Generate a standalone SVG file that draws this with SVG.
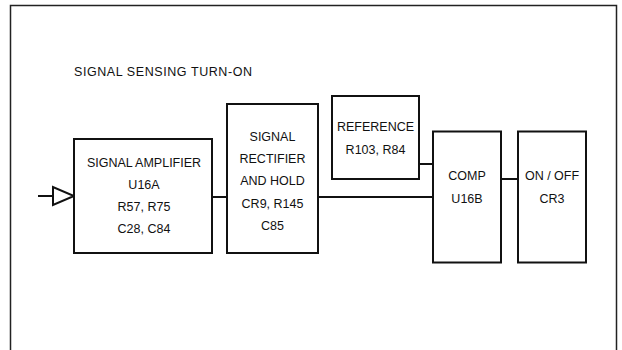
<svg xmlns="http://www.w3.org/2000/svg" width="622" height="350" viewBox="0 0 622 350">
<style>
.box{fill:#fff;stroke:#111;stroke-width:2}
.t{font-family:"Liberation Sans",Arial,sans-serif;font-size:12.5px;fill:#111;text-anchor:middle;dominant-baseline:central}
.c{fill:none;stroke:#111;stroke-width:2}
</style>
<rect width="622" height="350" fill="#fff"/>
<path d="M10.5,350 V5.5 H616.5 V350" fill="none" stroke="#222" stroke-width="1.5"/>
<text x="74" y="72" font-family="Liberation Sans,Arial,sans-serif" font-size="12.5" fill="#111" dominant-baseline="central" textLength="178" lengthAdjust="spacing">SIGNAL SENSING TURN-ON</text>
<g id="connectors">
<line class="c" x1="38" y1="196" x2="53" y2="196"/>
<polygon class="c" points="53,187 53,205 74,196"/>
<line class="c" x1="212" y1="197" x2="227" y2="197"/>
<line class="c" x1="318" y1="197" x2="433" y2="197"/>
<line class="c" x1="419" y1="164" x2="433" y2="164"/>
<line class="c" x1="501" y1="179" x2="518" y2="179"/>
</g>
<g id="amp">
<rect class="box" x="74" y="139" width="138" height="114"/>
<text class="t" x="144" y="162.5">SIGNAL AMPLIFIER</text>
<text class="t" x="144" y="185">U16A</text>
<text class="t" x="144" y="207">R57, R75</text>
<text class="t" x="144" y="228.5">C28, C84</text>
</g>
<g id="rectifier">
<rect class="box" x="227" y="104" width="91" height="149"/>
<text class="t" x="272.5" y="137">SIGNAL</text>
<text class="t" x="272.5" y="158.5">RECTIFIER</text>
<text class="t" x="272.5" y="181">AND HOLD</text>
<text class="t" x="272.5" y="203.5">CR9, R145</text>
<text class="t" x="272.5" y="226">C85</text>
</g>
<g id="reference">
<rect class="box" x="332" y="96" width="87" height="83"/>
<text class="t" x="375.5" y="127">REFERENCE</text>
<text class="t" x="375.5" y="150">R103, R84</text>
</g>
<g id="comp">
<rect class="box" x="433" y="131.5" width="68" height="131"/>
<text class="t" x="467" y="176">COMP</text>
<text class="t" x="467" y="198.5">U16B</text>
</g>
<g id="onoff">
<rect class="box" x="518" y="131.5" width="68" height="131"/>
<text class="t" x="552" y="176">ON / OFF</text>
<text class="t" x="552" y="198.5">CR3</text>
</g>
</svg>
